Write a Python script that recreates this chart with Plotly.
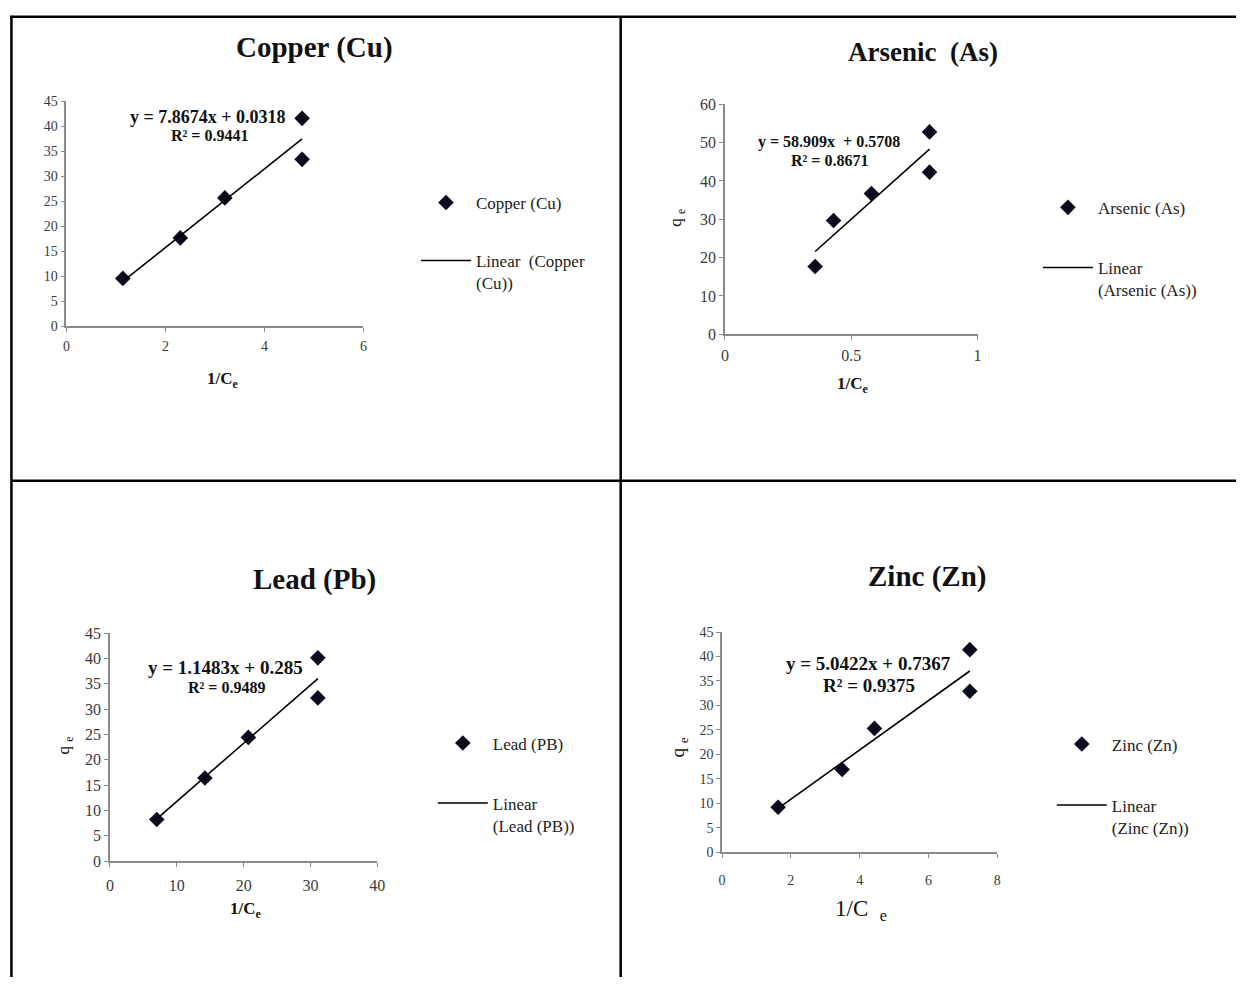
import plotly.graph_objects as go

W, H = 1244, 986

# ---- data ----
cu_x = [1.14, 2.3, 3.2, 4.76, 4.76]
cu_y = [9.6, 17.7, 25.7, 41.6, 33.4]
cu_fit = (7.8674, 0.0318)

as_x = [0.357, 0.43, 0.58, 0.81, 0.81]
as_y = [17.7, 29.7, 36.7, 52.8, 42.3]
as_fit = (58.909, 0.5708)

pb_x = [7.0, 14.2, 20.7, 31.1, 31.1]
pb_y = [8.2, 16.4, 24.4, 40.1, 32.2]
pb_fit = (1.1483, 0.285)

zn_x = [1.63, 3.49, 4.43, 7.2, 7.2]
zn_y = [9.2, 16.9, 25.3, 41.4, 32.9]
zn_fit = (5.0422, 0.7367)

cu_xticks = [0, 2, 4, 6]; cu_yticks = list(range(0, 46, 5))
as_xticks = [0, 0.5, 1]; as_yticks = list(range(0, 61, 10))
pb_xticks = [0, 10, 20, 30, 40]; pb_yticks = list(range(0, 46, 5))
zn_xticks = [0, 2, 4, 6, 8]; zn_yticks = list(range(0, 46, 5))

SERIF = "Liberation Serif, Times New Roman, serif"


def px(x):
    return x / W


def py(y):
    return 1 - y / H


panels = [
    dict(x=cu_x, y=cu_y, fit=cu_fit, name="Copper (Cu)", lin="Linear  (Copper<br>(Cu))",
         xd=(63, 363), yd=(324, 95), xr=[0, 6], yr=[0, 45], xt=cu_xticks, yt=cu_yticks,
         leg=(416, 180), gap=33, tf=14, so=2),
    dict(x=as_x, y=as_y, fit=as_fit, name="Arsenic (As)", lin="Linear<br>(Arsenic (As))",
         xd=(728, 983), yd=(332, 98), xr=[0, 1], yr=[0, 60], xt=as_xticks, yt=as_yticks,
         leg=(1044, 185), gap=35, tf=16, so=2),
    dict(x=pb_x, y=pb_y, fit=pb_fit, name="Lead (PB)", lin="Linear<br>(Lead (PB))",
         xd=(107, 377), yd=(868, 636), xr=[0, 40], yr=[0, 45], xt=pb_xticks, yt=pb_yticks,
         leg=(433, 730), gap=35, tf=16, so=5),
    dict(x=zn_x, y=zn_y, fit=zn_fit, name="Zinc (Zn)", lin="Linear<br>(Zinc (Zn))",
         xd=(725, 1003), yd=(859, 635), xr=[0, 8], yr=[0, 45], xt=zn_xticks, yt=zn_yticks,
         leg=(1058, 731), gap=36, tf=14, so=10),
]

fig = go.Figure()
layout = {}
for i, p in enumerate(panels):
    k = "" if i == 0 else str(i + 1)
    xa, ya = "x" + k, "y" + k
    lg = "legend" + k
    fig.add_trace(go.Scatter(
        x=p["x"], y=p["y"], mode="markers", name=p["name"],
        marker=dict(symbol="diamond", size=12, color="#0b0b1e"),
        xaxis=xa, yaxis=ya, legend=lg, legendgroup="a" + k, showlegend=True))
    m, b = p["fit"]
    x0, x1 = min(p["x"]), max(p["x"])
    fig.add_trace(go.Scatter(
        x=[x0, x1], y=[m * x0 + b, m * x1 + b], mode="lines", name=p["lin"],
        line=dict(color="black", width=1.6),
        xaxis=xa, yaxis=ya, legend=lg, legendgroup="b" + k, showlegend=True))
    axstyle = dict(showgrid=False, zeroline=False, showline=True, linecolor="#8a8a8a",
                   linewidth=1.5, ticks="outside", ticklen=4, tickcolor="#8a8a8a",
                   tickfont=dict(family=SERIF, size=p["tf"], color="#3a3a3a"), fixedrange=True)
    layout["xaxis" + k] = dict(domain=[px(p["xd"][0]), px(p["xd"][1])], range=p["xr"],
                               tickvals=p["xt"], anchor=ya, ticklabelstandoff=p["so"], **axstyle)
    layout["yaxis" + k] = dict(domain=[py(p["yd"][0]), py(p["yd"][1])], range=p["yr"],
                               tickvals=p["yt"], anchor=xa, **axstyle)
    layout[lg] = dict(x=px(p["leg"][0]), y=py(p["leg"][1]), xanchor="left", yanchor="top",
                      bgcolor="rgba(0,0,0,0)", font=dict(family=SERIF, size=17, color="#222"),
                      traceorder="grouped", tracegroupgap=p["gap"], valign="top", itemwidth=50)

fig.update_layout(**layout)

ann = []


def text(x, y, s, size=15, bold=False, angle=0, color="#111"):
    if bold:
        s = "<b>" + s + "</b>"
    ann.append(dict(x=px(x), y=py(y), xref="paper", yref="paper", text=s, showarrow=False,
                    xanchor="center", yanchor="middle", textangle=angle,
                    font=dict(family=SERIF, size=size, color=color)))


# titles
text(314, 40, "Copper (Cu)", size=29, bold=True)
text(928, 45, "Arsenic  (As)", size=27, bold=True)
text(314, 582, "Lead (Pb)", size=29, bold=True)
text(932, 578, "Zinc (Zn)", size=29, bold=True)

# equations
text(206, 111, "y = 7.8674x + 0.0318", size=18, bold=True)
text(207, 130, "R² = 0.9441", size=16, bold=True)
text(833, 136, "y = 58.909x  + 0.5708", size=16, bold=True)
text(834, 155, "R² = 0.8671", size=16, bold=True)
text(224, 671, "y = 1.1483x + 0.285", size=19, bold=True)
text(225, 691, "R² = 0.9489", size=16, bold=True)
text(873, 667, "y = 5.0422x + 0.7367", size=19, bold=True)
text(873, 689, "R² = 0.9375", size=19, bold=True)

# x titles
text(221, 379, "1/C<sub>e</sub>", size=17, bold=True)
text(857, 384, "1/C<sub>e</sub>", size=17, bold=True)
text(244, 918, "1/C<sub>e</sub>", size=17, bold=True)
text(865, 918, "1/C  <sub>e</sub>", size=23)

# y titles
text(680, 213, "q <sub>e</sub>", size=17, angle=-90)
text(62, 750, "q <sub>e</sub>", size=17, angle=-90)
text(682, 752, "q <sub>e</sub>", size=19, angle=-90)

# table borders
shapes = []
bl = dict(color="black", width=2.5)
shapes.append(dict(type="line", xref="paper", yref="paper", x0=px(6.5), x1=px(1244), y0=py(9), y1=py(9), line=bl))
shapes.append(dict(type="line", xref="paper", yref="paper", x0=px(7.5), x1=px(7.5), y0=py(8), y1=py(986), line=bl))
shapes.append(dict(type="line", xref="paper", yref="paper", x0=px(622.7), x1=px(622.7), y0=py(9), y1=py(986), line=bl))
shapes.append(dict(type="line", xref="paper", yref="paper", x0=px(7.5), x1=px(1244), y0=py(481), y1=py(481), line=bl))

fig.update_layout(width=W, height=H, margin=dict(l=0, r=0, t=0, b=0),
                  paper_bgcolor="white", plot_bgcolor="white",
                  annotations=ann, shapes=shapes, showlegend=True)

fig.write_html("out.html")
